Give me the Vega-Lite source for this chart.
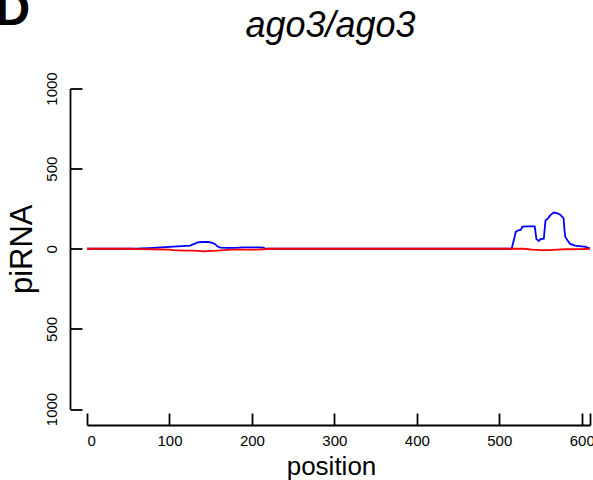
{
  "$schema": "https://vega.github.io/schema/vega-lite/v6.json",
  "width": 503,
  "height": 320.5,
  "autosize": {"type": "none"},
  "padding": {"left": 87, "top": 88.5, "right": 3, "bottom": 71},
  "background": "white",
  "config": {
    "view": {"stroke": null},
    "font": "Liberation Sans",
    "axis": {"grid": false, "domainColor": "black", "tickColor": "black", "labelColor": "black", "titleColor": "black", "domainWidth": 1.8, "tickWidth": 1.8, "titleFontWeight": "normal", "labelFont": "Liberation Sans", "titleFont": "Liberation Sans"}
  },
  "title": {"text": "ago3/ago3", "fontStyle": "italic", "fontWeight": "normal", "fontSize": 36, "font": "Liberation Sans", "color": "black", "anchor": "middle", "offset": -58, "dx": -8},
  "data": {
    "values": [
      {"strand": "sense", "position": 0, "piRNA": 0},
      {"strand": "sense", "position": 60, "piRNA": 0},
      {"strand": "sense", "position": 66, "piRNA": 2},
      {"strand": "sense", "position": 75, "piRNA": 4},
      {"strand": "sense", "position": 85, "piRNA": 7},
      {"strand": "sense", "position": 95, "piRNA": 10},
      {"strand": "sense", "position": 105, "piRNA": 13},
      {"strand": "sense", "position": 115, "piRNA": 16},
      {"strand": "sense", "position": 125, "piRNA": 20},
      {"strand": "sense", "position": 130, "piRNA": 30},
      {"strand": "sense", "position": 134, "piRNA": 40},
      {"strand": "sense", "position": 140, "piRNA": 42},
      {"strand": "sense", "position": 147, "piRNA": 42},
      {"strand": "sense", "position": 151, "piRNA": 38},
      {"strand": "sense", "position": 155, "piRNA": 30},
      {"strand": "sense", "position": 158, "piRNA": 15},
      {"strand": "sense", "position": 162, "piRNA": 7},
      {"strand": "sense", "position": 170, "piRNA": 5},
      {"strand": "sense", "position": 180, "piRNA": 5},
      {"strand": "sense", "position": 190, "piRNA": 8},
      {"strand": "sense", "position": 200, "piRNA": 8},
      {"strand": "sense", "position": 210, "piRNA": 8},
      {"strand": "sense", "position": 214, "piRNA": 7},
      {"strand": "sense", "position": 216, "piRNA": 0},
      {"strand": "sense", "position": 400, "piRNA": 0},
      {"strand": "sense", "position": 515, "piRNA": 0},
      {"strand": "sense", "position": 517, "piRNA": 40},
      {"strand": "sense", "position": 520, "piRNA": 105},
      {"strand": "sense", "position": 523, "piRNA": 115},
      {"strand": "sense", "position": 526, "piRNA": 118},
      {"strand": "sense", "position": 528, "piRNA": 138},
      {"strand": "sense", "position": 535, "piRNA": 140},
      {"strand": "sense", "position": 543, "piRNA": 140},
      {"strand": "sense", "position": 544, "piRNA": 100},
      {"strand": "sense", "position": 545, "piRNA": 60},
      {"strand": "sense", "position": 548, "piRNA": 48},
      {"strand": "sense", "position": 550, "piRNA": 60},
      {"strand": "sense", "position": 554, "piRNA": 63},
      {"strand": "sense", "position": 555, "piRNA": 120},
      {"strand": "sense", "position": 556, "piRNA": 176},
      {"strand": "sense", "position": 559, "piRNA": 190},
      {"strand": "sense", "position": 562, "piRNA": 210},
      {"strand": "sense", "position": 566, "piRNA": 226},
      {"strand": "sense", "position": 570, "piRNA": 222},
      {"strand": "sense", "position": 574, "piRNA": 212},
      {"strand": "sense", "position": 578, "piRNA": 190},
      {"strand": "sense", "position": 579, "piRNA": 120},
      {"strand": "sense", "position": 580, "piRNA": 75},
      {"strand": "sense", "position": 582, "piRNA": 57},
      {"strand": "sense", "position": 586, "piRNA": 30},
      {"strand": "sense", "position": 592, "piRNA": 20},
      {"strand": "sense", "position": 600, "piRNA": 15},
      {"strand": "sense", "position": 605, "piRNA": 12},
      {"strand": "sense", "position": 608, "piRNA": 5},
      {"strand": "sense", "position": 610, "piRNA": 2},
      {"strand": "antisense", "position": 0, "piRNA": 0},
      {"strand": "antisense", "position": 55, "piRNA": 0},
      {"strand": "antisense", "position": 60, "piRNA": -2},
      {"strand": "antisense", "position": 80, "piRNA": -3},
      {"strand": "antisense", "position": 100, "piRNA": -5},
      {"strand": "antisense", "position": 105, "piRNA": -8},
      {"strand": "antisense", "position": 117, "piRNA": -11},
      {"strand": "antisense", "position": 130, "piRNA": -12},
      {"strand": "antisense", "position": 142, "piRNA": -16},
      {"strand": "antisense", "position": 150, "piRNA": -13},
      {"strand": "antisense", "position": 158, "piRNA": -12},
      {"strand": "antisense", "position": 166, "piRNA": -8},
      {"strand": "antisense", "position": 175, "piRNA": -6},
      {"strand": "antisense", "position": 190, "piRNA": -5},
      {"strand": "antisense", "position": 205, "piRNA": -5},
      {"strand": "antisense", "position": 215, "piRNA": -3},
      {"strand": "antisense", "position": 220, "piRNA": 0},
      {"strand": "antisense", "position": 530, "piRNA": 0},
      {"strand": "antisense", "position": 540, "piRNA": -5},
      {"strand": "antisense", "position": 550, "piRNA": -8},
      {"strand": "antisense", "position": 560, "piRNA": -8},
      {"strand": "antisense", "position": 570, "piRNA": -5},
      {"strand": "antisense", "position": 580, "piRNA": -3},
      {"strand": "antisense", "position": 600, "piRNA": -2},
      {"strand": "antisense", "position": 610, "piRNA": 0}
    ]
  },
  "encoding": {
    "x": {
      "field": "position", "type": "quantitative",
      "scale": {"domain": [0, 610], "nice": false, "zero": false},
      "axis": {"title": "position", "values": [0, 100, 200, 300, 400, 500, 600, 610], "labelExpr": "datum.value == 610 ? '' : datum.label", "offset": 16, "tickSize": -12, "labelFontSize": 15, "labelPadding": 20, "titleFontSize": 26, "titlePadding": 5, "titleX": 244}
    },
    "y": {
      "field": "piRNA", "type": "quantitative",
      "scale": {"domain": [-1000, 1000], "nice": false},
      "axis": {"title": "piRNA", "values": [-1000, -500, 0, 500, 1000], "labelExpr": "format(abs(datum.value), 'd')", "labelAngle": -90, "offset": 17, "tickSize": -12, "labelFontSize": 15, "labelPadding": 23, "titleFontSize": 31, "titlePadding": 6}
    }
  },
  "layer": [
    {"transform": [{"filter": "datum.strand == 'sense'"}], "mark": {"type": "line", "color": "#0000ff", "strokeWidth": 1.8}},
    {"transform": [{"filter": "datum.strand == 'antisense'"}], "mark": {"type": "line", "color": "#ff0000", "strokeWidth": 1.8}},
    {"transform": [{"filter": "datum.strand == 'sense' && datum.position == 0"}],
     "mark": {"type": "text", "text": "D", "fontSize": 48, "fontWeight": "bold", "font": "Liberation Sans", "align": "right", "baseline": "alphabetic", "color": "black"},
     "encoding": {"x": {"datum": -69}, "y": {"datum": 1396}}}
  ]
}
